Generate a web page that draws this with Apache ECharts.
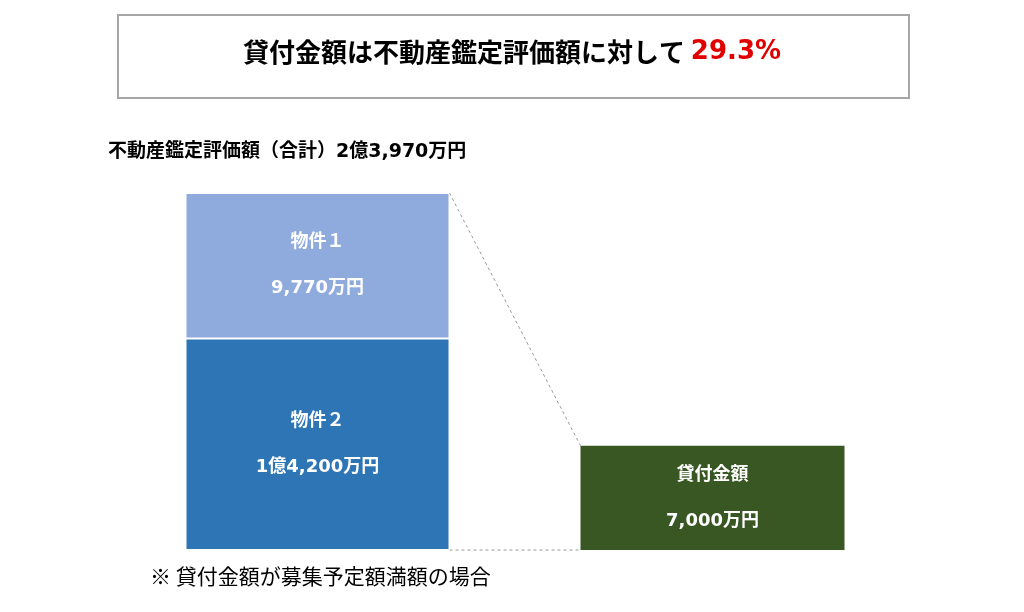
<!DOCTYPE html>
<html><head><meta charset="utf-8">
<script src="https://cdn.jsdelivr.net/npm/echarts@6/dist/echarts.min.js"></script>
<style>html,body{margin:0;padding:0;background:#fff}#c{width:1024px;height:612px}</style>
</head><body><div id="c"></div>
<script>
const categories = ['不動産鑑定評価額', '貸付金額'];
const property2 = [14200, null];
const property1 = [9770, null];
const loan = [null, 7000];
const labels2 = '物件２\n1億4,200万円';
const labels1 = '物件１\n9,770万円';
const labelLoan = '貸付金額\n7,000万円';
const titleText = '貸付金額は不動産鑑定評価額に対して ';
const titlePct = '29.3%';
const subtitle = '不動産鑑定評価額（合計）2億3,970万円';
const footnote = '※ 貸付金額が募集予定額満額の場合';
const total = 23970;

const F = '"DejaVu Sans", "Noto Sans CJK JP", sans-serif';
const FJ = '"Noto Sans CJK JP", sans-serif';
const chart = echarts.init(document.getElementById('c'));
const lbl = (t) => ({show: true, position: 'inside', formatter: t, color: '#fff', fontWeight: 'bold', fontSize: 18, lineHeight: 46, fontFamily: F});
chart.setOption({
  animation: false,
  grid: {left: 120, right: 114, top: 193, bottom: 62},
  xAxis: {type: 'category', data: categories, show: false},
  yAxis: {type: 'value', min: 0, max: total, show: false},
  graphic: [
    {type: 'rect', shape: {x: 118, y: 15, width: 791, height: 83}, style: {fill: '#fff', stroke: '#a6a6a6', lineWidth: 2}},
    {type: 'text', left: 'center', top: 39, style: {rich: {a: {fontSize: 26, fontWeight: 'bold', fill: '#000', fontFamily: FJ}, b: {fontSize: 26, fontWeight: 'bold', fill: '#e00000', fontFamily: F}}, text: '{a|' + titleText + '}{b|' + titlePct + '}'}},
    {type: 'text', left: 108, top: 143, style: {text: subtitle, fontSize: 19, fontWeight: 'bold', fill: '#000', fontFamily: F}},
    {type: 'text', left: 150, top: 566, style: {text: footnote, fontSize: 21, fill: '#000', fontFamily: FJ}}
  ],
  series: [
    {type: 'bar', stack: 's', data: property2, barWidth: 264, itemStyle: {color: '#2e75b6', borderColor: '#fff', borderWidth: 1}, label: lbl(labels2)},
    {type: 'bar', stack: 's', data: property1, barWidth: 264, itemStyle: {color: '#8faadc', borderColor: '#fff', borderWidth: 1}, label: lbl(labels1)},
    {type: 'bar', stack: 's', data: loan, barWidth: 264, itemStyle: {color: '#385723'}, label: lbl(labelLoan)},
    {type: 'custom', data: [[0, total, 7000]], silent: true, z: 1,
     renderItem: function (params, api) {
       const a = api.coord([0, api.value(1)]);
       const b = api.coord([1, api.value(2)]);
       const base0 = api.coord([0, 0]);
       const base1 = api.coord([1, 0]);
       const hw = 132;
       const st = {stroke: '#999', lineWidth: 1, lineDash: [3, 3]};
       return {type: 'group', children: [
         {type: 'line', shape: {x1: a[0] + hw, y1: a[1], x2: b[0] - hw, y2: b[1]}, style: st},
         {type: 'line', shape: {x1: base0[0] + hw, y1: base0[1], x2: base1[0] - hw, y2: base1[1]}, style: st}
       ]};
     }}
  ]
});
</script></body></html>
